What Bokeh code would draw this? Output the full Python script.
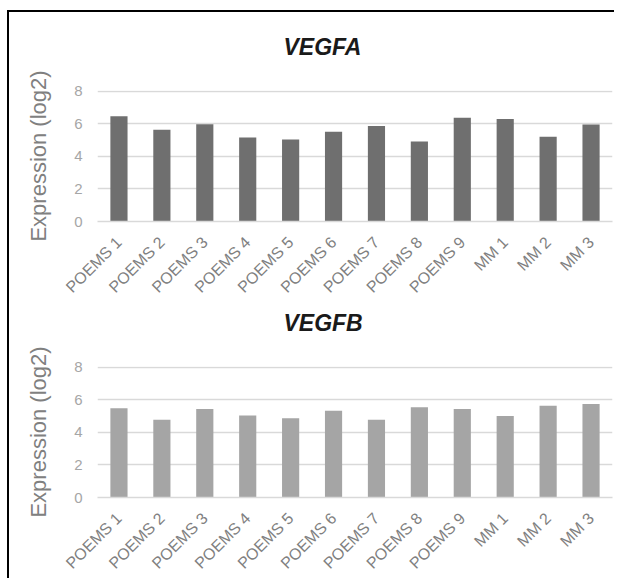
import math
from bokeh.plotting import figure
from bokeh.models import ColumnDataSource, Range1d, Spacer, Title
from bokeh.layouts import column, row
from bokeh.embed import file_html
from bokeh.resources import INLINE

samples = ["POEMS 1", "POEMS 2", "POEMS 3", "POEMS 4", "POEMS 5", "POEMS 6",
           "POEMS 7", "POEMS 8", "POEMS 9", "MM 1", "MM 2", "MM 3"]
vegfa = [6.48, 5.64, 5.99, 5.17, 5.05, 5.52, 5.87, 4.92, 6.38, 6.30, 5.21, 5.97]
vegfb = [5.49, 4.79, 5.44, 5.05, 4.87, 5.34, 4.79, 5.55, 5.44, 5.01, 5.65, 5.75]
y_ticks = [0, 2, 4, 6, 8]
titles = ["VEGFA", "VEGFB"]
colors = ["#6f6f6f", "#a5a5a5"]

FONT = "Liberation Sans"


def make_chart(values, title, color, top, bottom):
    p = figure(x_range=samples, y_range=Range1d(0, 8.06),
               frame_width=515, frame_height=131,
               output_backend="svg", toolbar_location=None,
               min_border_left=88, min_border_right=2,
               min_border_top=top, min_border_bottom=bottom)
    src = ColumnDataSource(dict(x=samples, top=values))
    p.vbar(x="x", top="top", width=0.4, source=src, fill_color=color, line_color=None)
    p.outline_line_color = None
    p.background_fill_color = "white"
    p.border_fill_color = "white"
    p.xgrid.grid_line_color = None
    p.ygrid.grid_line_color = "#d9d9d9"
    p.ygrid.grid_line_width = 1.3
    p.yaxis.ticker = y_ticks
    p.yaxis.axis_line_color = None
    p.yaxis.major_tick_line_color = None
    p.yaxis.minor_tick_line_color = None
    p.yaxis.major_tick_out = 0
    p.yaxis.major_label_standoff = 15
    p.yaxis.major_label_text_color = "#a6a6a6"
    p.yaxis.major_label_text_font = FONT
    p.yaxis.major_label_text_font_size = "15px"
    p.yaxis.axis_label = "Expression (log2)"
    p.yaxis.axis_label_text_font = FONT
    p.yaxis.axis_label_text_font_style = "normal"
    p.yaxis.axis_label_text_font_size = "22px"
    p.yaxis.axis_label_text_color = "#808080"
    p.yaxis.axis_label_standoff = 20
    p.xaxis.axis_line_color = "#d9d9d9"
    p.xaxis.axis_line_width = 1.3
    p.xaxis.major_tick_line_color = None
    p.xaxis.minor_tick_line_color = None
    p.xaxis.major_tick_out = 0
    p.xaxis.major_label_orientation = math.pi / 4
    p.xaxis.major_label_standoff = 18
    p.xaxis.major_label_text_color = "#808080"
    p.xaxis.major_label_text_font = FONT
    p.xaxis.major_label_text_font_size = "16px"
    # blank spacer title (closest to the frame), then the real title above it
    p.add_layout(Title(text=" ", standoff=18, text_font_size="10px"), "above")
    p.add_layout(Title(text=title, align="left", offset=186, standoff=0,
                       text_font=FONT, text_font_style="bold italic",
                       text_font_size="23px", text_color="#1a1a1a"), "above")
    return p


p1 = make_chart(vegfa, titles[0], colors[0], 78, 60)
p2 = make_chart(vegfb, titles[1], colors[1], 62, 60)

black = {"background-color": "black"}
layout = row(
    Spacer(width=7, height=580),
    column(
        Spacer(width=607, height=10),
        Spacer(width=607, height=2, styles=black),
        row(Spacer(width=2, height=566, styles=black), column(p1, p2)),
    ),
)

open("out.html", "w").write(file_html(layout, INLINE))
